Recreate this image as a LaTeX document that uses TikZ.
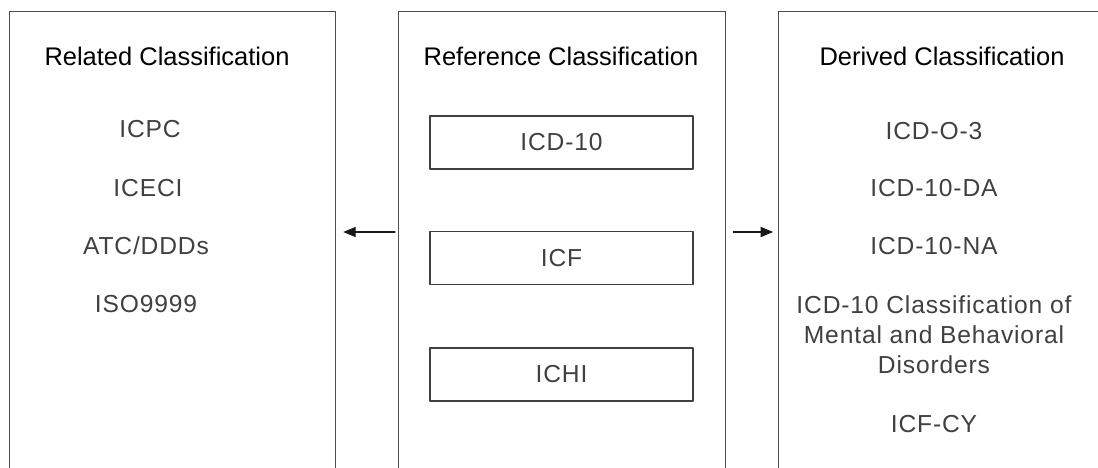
\documentclass[tikz,border=0pt]{standalone}
\usepackage{fontspec}
\setmainfont{Liberation Sans}
\newfontfamily\entryfont[LetterSpace=3.5]{Liberation Sans}
\usetikzlibrary{arrows}

\begin{document}
\begin{tikzpicture}[line cap=round,line join=round,>=triangle 45,x=0.02cm,y=-0.02cm,
  panel/.style={draw=black!70,line width=0.8pt,anchor=north west,minimum height=10cm,inner sep=0pt},
  head/.style={font=\fontsize{14.5}{17}\selectfont,anchor=base},
  entry/.style={font=\entryfont\fontsize{14}{17}\selectfont,text=black!75,align=center},
  refbox/.style={draw=black!75,line width=0.7pt,minimum width=5.26cm,minimum height=1.06cm,
    font=\entryfont\fontsize{14}{17}\selectfont,text=black!75},
  link/.style={->,line width=0.6pt,black!90}]
\useasboundingbox (0,0) rectangle (1098,467);
\clip (0,0) rectangle (1098,467);
% the three columns
\node [panel,minimum width=6.52cm] (rel) at (9,11) {};
\node [panel,minimum width=6.54cm] (ref) at (398,11) {};
\node [panel,minimum width=7cm] (der) at (778,11) {};
% headings
\node [head] (relhead) at (167,65) {Related Classification};
\node [head] (refhead) at (561,65) {Reference Classification};
\node [head] (derhead) at (942,65) {Derived Classification};
% related
\node [entry,anchor=base] (icpc) at (150,137) {ICPC};
\node [entry,anchor=base] (iceci) at (148,196) {ICECI};
\node [entry,anchor=base] (atc) at (146,254) {ATC/DDDs};
\node [entry,anchor=base] (iso) at (146,312) {ISO9999};
% reference
\node [refbox] (icd) at (561.5,142.5) {ICD-10};
\node [refbox] (icf) at (561.5,258) {ICF};
\node [refbox] (ichi) at (561.5,374.5) {ICHI};
% derived
\node [entry,anchor=base] (icdo) at (934,139) {ICD-O-3};
\node [entry,anchor=base] (icdda) at (934,196) {ICD-10-DA};
\node [entry,anchor=base] (icdna) at (934,254) {ICD-10-NA};
\node [entry] (mental) at (934,335) {ICD-10 Classification of\\Mental and Behavioral\\Disorders};
\node [entry,anchor=base] (icfcy) at (934,432) {ICF-CY};
% arrows
\coordinate (lvl) at (0,232);
\draw [link,shorten <=0.06cm,shorten >=0.14cm] (ref.west |- lvl) -- (rel.east |- lvl);
\draw [link,shorten <=0.14cm,shorten >=0.1cm] (ref.east |- lvl) -- (der.west |- lvl);
\end{tikzpicture}
\end{document}
